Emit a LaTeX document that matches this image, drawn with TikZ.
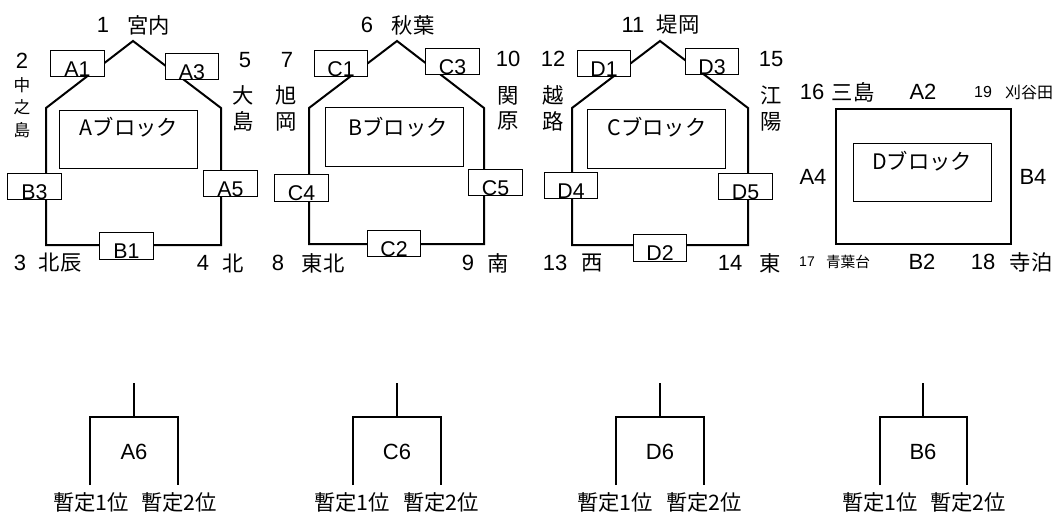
\documentclass[tikz,border=0pt]{standalone}
\usepackage{fontspec}
\setmainfont{Liberation Sans}
\newfontfamily\jp{Noto Sans CJK JP}

\begin{document}
\begin{tikzpicture}[x=0.75pt,y=0.75pt,yscale=-1,xscale=1,
  sen/.style={line width=1.5pt},
  hoso/.style={line width=0.75pt},
  waku/.style={draw,fill=white,line width=0.75pt,minimum width=40pt,minimum height=20pt,inner sep=0pt,text height=19pt,font=\fontsize{16}{18}\selectfont},
  moji/.style={inner sep=0pt,font=\fontsize{16.5}{18}\selectfont},
  jmoji/.style={inner sep=0pt,font=\jp\fontsize{16}{18}\selectfont},
  tate/.style={inner sep=0pt,align=center,font=\jp\fontsize{16}{19}\selectfont},
  juni/.style={inner sep=0pt,font=\jp\fontsize{16}{18}\selectfont}]
\useasboundingbox (0,0) rectangle (1053,514);

%Block A outline
\coordinate (aTop) at (133,41);
\coordinate (aLs) at (46,108);
\coordinate (aRs) at (221,108);
\coordinate (aLb) at (46,245);
\coordinate (aRb) at (221,245);
\draw[sen] (aTop) -- (aLs) -- (aLb) -- (aRb) -- (aRs) -- cycle;
\draw[hoso] (59,110) rectangle (197,168);
\node[jmoji] (aName) at (129,127) {Aブロック};
% Boxes
\node[waku] (A1) at (77.5,63.5) {A1};
\node[waku] (A3) at (192,66.5) {A3};
\node[waku] (B3) at (34.5,186.5) {B3};
\node[waku] (A5) at (230.5,183.5) {A5};
\node[waku] (B1) at (126.5,246) {B1};
% Text Node
\node[moji] (n1) at (103,25) {1};
\node[jmoji] (miyauchi) at (148.5,25) {宮内};
\node[moji] (n2) at (22,61) {2};
\node[tate,font=\jp\fontsize{12.5}{17}\selectfont] (nakanoshima) at (22,107.5) {中\\之\\島};
\node[moji] (n5) at (245,60) {5};
\node[tate] (oshima) at (243,108.5) {大\\島};
\node[moji] (n3) at (20,263) {3};
\node[jmoji] (hokushin) at (60,263) {北辰};
\node[moji] (n4) at (203,263) {4};
\node[jmoji] (kita) at (233,263) {北};

%Block B outline
\coordinate (bTop) at (397,41);
\coordinate (bLs) at (309,108);
\coordinate (bRs) at (484,108);
\coordinate (bLb) at (309,244);
\coordinate (bRb) at (484,244);
\draw[sen] (bTop) -- (bLs) -- (bLb) -- (bRb) -- (bRs) -- cycle;
\draw[hoso] (325,107) rectangle (463,166);
\node[jmoji] (bName) at (398,127) {Bブロック};
% Boxes
\node[waku] (C1) at (341,63.5) {C1};
\node[waku] (C3) at (452.5,61.5) {C3};
\node[waku] (C4) at (301.5,188) {C4};
\node[waku] (C5) at (495.5,182.5) {C5};
\node[waku] (C2) at (394,243.5) {C2};
% Text Node
\node[moji] (n6) at (367,25) {6};
\node[jmoji] (akiha) at (413,25) {秋葉};
\node[moji] (n7) at (287,60) {7};
\node[tate] (kyuoka) at (286,108.5) {旭\\岡};
\node[moji] (n10) at (508,59) {10};
\node[tate] (sekihara) at (508,108.5) {関\\原};
\node[moji] (n8) at (278,263) {8};
\node[jmoji] (tohoku) at (323,263) {東北};
\node[moji] (n9) at (468,263) {9};
\node[jmoji] (minami) at (498,263) {南};

%Block C outline
\coordinate (cTop) at (660,41);
\coordinate (cLs) at (572,108);
\coordinate (cRs) at (748,108);
\coordinate (cLb) at (572,245);
\coordinate (cRb) at (748,245);
\draw[sen] (cTop) -- (cLs) -- (cLb) -- (cRb) -- (cRs) -- cycle;
\draw[hoso] (587,109) rectangle (725,168);
\node[jmoji] (cName) at (657,127) {Cブロック};
% Boxes
\node[waku] (D1) at (604,63.5) {D1};
\node[waku] (D3) at (712,61.5) {D3};
\node[waku] (D4) at (571,185.5) {D4};
\node[waku] (D5) at (745.5,186.5) {D5};
\node[waku] (D2) at (660,248) {D2};
% Text Node
\node[moji] (n11) at (633,25) {11};
\node[jmoji] (tsutsumioka) at (678,25) {堤岡};
\node[moji] (n12) at (553,59) {12};
\node[tate] (koshiji) at (553,108.5) {越\\路};
\node[moji] (n15) at (771,59) {15};
\node[tate] (koyo) at (771,108.5) {江\\陽};
\node[moji] (n13) at (555,263) {13};
\node[jmoji] (nishi) at (592,263) {西};
\node[moji] (n14) at (730,263) {14};
\node[jmoji] (higashi) at (770,263) {東};

%Block D
\draw[line width=1.6pt] (836,109) rectangle (1011,244);
\draw[hoso] (853,143) rectangle (991,201);
\node[jmoji] (dName) at (922,161) {Dブロック};
% Text Node
\node[moji] (n16) at (812,92) {16};
\node[jmoji] (mishima) at (853,92) {三島};
\node[moji] (A2) at (923,92) {A2};
\node[moji,font=\fontsize{12}{14}\selectfont] (n19) at (983,92) {19};
\node[jmoji,font=\jp\fontsize{12}{14}\selectfont] (kariyada) at (1029,92) {刈谷田};
\node[moji] (A4) at (813,177) {A4};
\node[moji] (B4) at (1033,177) {B4};
\node[moji,font=\fontsize{10.5}{12}\selectfont] (n17) at (807,262) {17};
\node[jmoji,font=\jp\fontsize{11}{13}\selectfont] (aobadai) at (848,262) {青葉台};
\node[moji] (B2) at (922,262) {B2};
\node[moji] (n18) at (983,262) {18};
\node[jmoji] (teradomari) at (1031,262) {寺泊};

%Bracket A6
\coordinate (a6t) at (134,383);
\coordinate (a6m) at (134,417);
\coordinate (a6l) at (90,485);
\coordinate (a6r) at (178,485);
\draw[sen] (a6t) -- (a6m);
\draw[sen] (a6l) |- (a6m) -| (a6r);
\node[moji] (A6) at (134,452) {A6};
\node[juni] (a6one) at (91,502) {暫定1位};
\node[juni] (a6two) at (179,502) {暫定2位};

%Bracket C6
\coordinate (c6t) at (397,383);
\coordinate (c6m) at (397,417);
\coordinate (c6l) at (353,485);
\coordinate (c6r) at (441,485);
\draw[sen] (c6t) -- (c6m);
\draw[sen] (c6l) |- (c6m) -| (c6r);
\node[moji] (C6) at (397,452) {C6};
\node[juni] (c6one) at (352,502) {暫定1位};
\node[juni] (c6two) at (441,502) {暫定2位};

%Bracket D6
\coordinate (d6t) at (660,383);
\coordinate (d6m) at (660,417);
\coordinate (d6l) at (616,485);
\coordinate (d6r) at (704,485);
\draw[sen] (d6t) -- (d6m);
\draw[sen] (d6l) |- (d6m) -| (d6r);
\node[moji] (D6) at (660,452) {D6};
\node[juni] (d6one) at (615,502) {暫定1位};
\node[juni] (d6two) at (704,502) {暫定2位};

%Bracket B6
\coordinate (b6t) at (923,383);
\coordinate (b6m) at (923,417);
\coordinate (b6l) at (880,485);
\coordinate (b6r) at (967,485);
\draw[sen] (b6t) -- (b6m);
\draw[sen] (b6l) |- (b6m) -| (b6r);
\node[moji] (B6) at (923,452) {B6};
\node[juni] (b6one) at (880,502) {暫定1位};
\node[juni] (b6two) at (968,502) {暫定2位};

\end{tikzpicture}
\end{document}
